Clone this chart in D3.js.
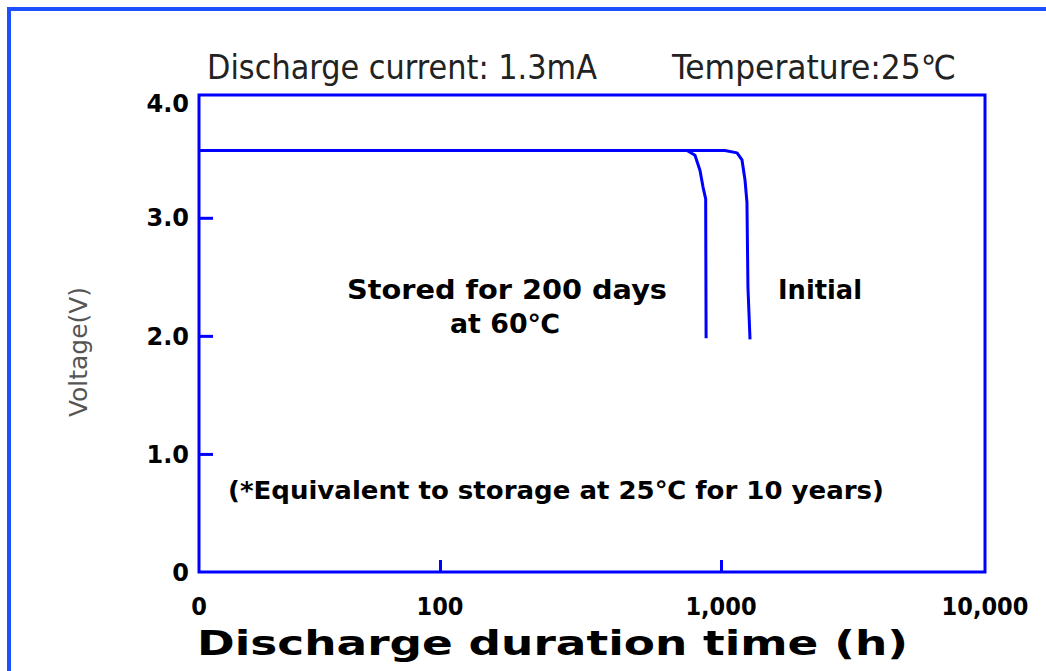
<!DOCTYPE html>
<html>
<head>
<meta charset="utf-8">
<script src="https://cdn.jsdelivr.net/npm/d3@7"></script>
<style>
  html, body { margin: 0; padding: 0; background: #fff; }
  svg { display: block; }
</style>
</head>
<body>
<svg id="chart" width="1046" height="671"></svg>
<script>
// ---- data ----
const xTickValues = [10, 100, 1000, 10000];
const xTickLabels = ["0", "100", "1,000", "10,000"];
const yTickValues = [0, 1, 2, 3, 4];
const yTickLabels = ["0", "1.0", "2.0", "3.0", "4.0"];

// Stored for 200 days at 60°C (hours, volts)
const storedHours = [10, 757, 808, 842, 863, 882, 885];
const storedVolts = [3.57, 3.57, 3.53, 3.40, 3.26, 3.16, 1.98];
// Initial
const initialHours = [10, 1035, 1150, 1201, 1233, 1254, 1265, 1288];
const initialVolts = [3.57, 3.57, 3.55, 3.49, 3.32, 3.13, 2.41, 1.97];

const titleLeft = "Discharge current: 1.3mA";
const titleRight = "Temperature:25\u2103";
const xTitle = "Discharge duration time (h)";
const yTitle = "Voltage(V)";
const storedLabel = ["Stored for 200 days", "at 60\u2103"];
const initialLabel = "Initial";
const noteLabel = "(*Equivalent to storage at 25\u2103 for 10 years)";

(function () {
// ---- layout ----
const svg = d3.select("#chart");
const pLeft = 199, pRight = 985, pTop = 95, pBottom = 572;
const blue = "#0000ff";

const x = d3.scaleLog().domain(xTickValues).range([199, 440, 721, 985]);
const y = d3.scaleLinear().domain([0, 4.04]).range([pBottom, pTop]);

// outer frame
svg.append("rect")
  .attr("x", 9).attr("y", 9).attr("width", 1046).attr("height", 671)
  .attr("fill", "none").attr("stroke", "#1f50ff").attr("stroke-width", 4);

// plot frame
svg.append("rect")
  .attr("x", pLeft).attr("y", pTop).attr("width", pRight - pLeft).attr("height", pBottom - pTop)
  .attr("fill", "none").attr("stroke", blue).attr("stroke-width", 3);

// y axis ticks (inward)
const yAxis = d3.axisRight(y)
  .tickValues(yTickValues.filter(v => v > 0 && v < 4))
  .tickSize(14).tickFormat("");
svg.append("g").attr("transform", `translate(${pLeft},0)`).call(yAxis)
  .call(g => g.select(".domain").remove())
  .call(g => g.selectAll("line").attr("stroke", blue).attr("stroke-width", 3));

// y tick labels
svg.append("g").selectAll("text").data(yTickValues).join("text")
  .attr("x", 189).attr("y", d => y(d) + (d === 4 ? 4 : 0))
  .attr("dy", "0.36em")
  .attr("text-anchor", "end")
  .attr("font-family", "DejaVu Sans, sans-serif")
  .attr("font-weight", "bold").attr("font-size", 24)
  .attr("fill", "#000")
  .text((d, i) => yTickLabels[i]);

// x axis ticks (inward)
const xAxis = d3.axisTop(x).tickValues([100, 1000]).tickSize(12).tickFormat("");
svg.append("g").attr("transform", `translate(0,${pBottom})`).call(xAxis)
  .call(g => g.select(".domain").remove())
  .call(g => g.selectAll("line").attr("stroke", blue).attr("stroke-width", 3));

// x tick labels
svg.append("g").selectAll("text").data(xTickValues).join("text")
  .attr("x", d => x(d)).attr("y", 615)
  .attr("text-anchor", "middle")
  .attr("font-family", "DejaVu Sans Condensed, DejaVu Sans, sans-serif")
  .attr("font-stretch", "condensed")
  .attr("font-weight", "bold").attr("font-size", 25)
  .attr("fill", "#000")
  .text((d, i) => xTickLabels[i]);

// curves
const lineGen = d3.line().x(d => x(d[0])).y(d => y(d[1]));
[[storedHours, storedVolts], [initialHours, initialVolts]].forEach(([hs, vs]) => {
  const pts = hs.map((h, i) => [h, vs[i]]);
  svg.append("path").datum(pts)
    .attr("d", lineGen)
    .attr("fill", "none").attr("stroke", blue).attr("stroke-width", 3)
    .attr("stroke-linejoin", "round");
});

// titles
const titleFont = "DejaVu Sans Condensed, DejaVu Sans, sans-serif";
svg.append("text").attr("x", 207).attr("y", 79)
  .attr("font-family", titleFont)
  .attr("font-stretch", "condensed").attr("font-weight", 300)
  .attr("font-size", 33).attr("fill", "#222")
  .attr("textLength", 390).attr("lengthAdjust", "spacingAndGlyphs")
  .text(titleLeft);
svg.append("text").attr("x", 672).attr("y", 79)
  .attr("font-family", titleFont)
  .attr("font-stretch", "condensed").attr("font-weight", 300)
  .attr("font-size", 33).attr("fill", "#222")
  .attr("textLength", 284).attr("lengthAdjust", "spacingAndGlyphs")
  .text(titleRight);

// x title
svg.append("text").attr("x", 197).attr("y", 655)
  .attr("font-family", "DejaVu Sans, sans-serif")
  .attr("font-weight", "bold").attr("font-size", 33).attr("fill", "#000")
  .attr("textLength", 711).attr("lengthAdjust", "spacingAndGlyphs")
  .text(xTitle);

// y title
svg.append("text")
  .attr("transform", "translate(87,352) rotate(-90)")
  .attr("text-anchor", "middle")
  .attr("font-family", "DejaVu Sans, sans-serif")
  .attr("font-size", 24).attr("fill", "#555")
  .attr("textLength", 130).attr("lengthAdjust", "spacingAndGlyphs")
  .text(yTitle);

// annotations
const annoFont = "DejaVu Sans, sans-serif";
svg.append("text").attr("x", 347).attr("y", 299)
  .attr("font-family", annoFont).attr("font-weight", "bold").attr("font-size", 26)
  .attr("textLength", 320).attr("lengthAdjust", "spacingAndGlyphs")
  .text(storedLabel[0]);
svg.append("text").attr("x", 505).attr("y", 333)
  .attr("text-anchor", "middle")
  .attr("font-family", annoFont).attr("font-weight", "bold").attr("font-size", 26)
  .attr("textLength", 110).attr("lengthAdjust", "spacingAndGlyphs")
  .text(storedLabel[1]);
svg.append("text").attr("x", 778).attr("y", 299)
  .attr("font-family", annoFont).attr("font-weight", "bold").attr("font-size", 26)
  .attr("textLength", 84).attr("lengthAdjust", "spacingAndGlyphs")
  .text(initialLabel);
svg.append("text").attr("x", 228).attr("y", 499)
  .attr("font-family", annoFont).attr("font-weight", "bold").attr("font-size", 25)
  .attr("textLength", 656).attr("lengthAdjust", "spacingAndGlyphs")
  .text(noteLabel);
})();
</script>
</body>
</html>
